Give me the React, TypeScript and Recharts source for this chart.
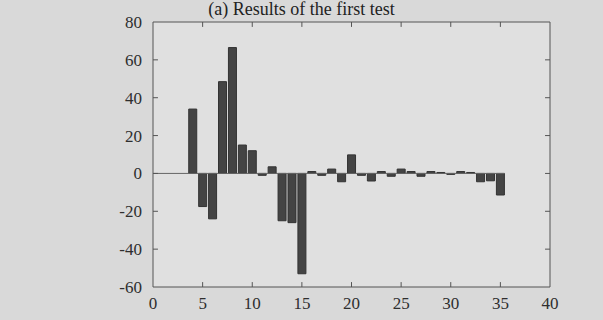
import React from 'react';
import { BarChart, Bar, XAxis, YAxis, CartesianGrid, ReferenceLine } from 'recharts';

// sample index 1..35 and the measured result for each
const samples = [1, 2, 3, 4, 5, 6, 7, 8, 9, 10, 11, 12, 13, 14, 15, 16, 17, 18, 19, 20, 21, 22, 23, 24, 25, 26, 27, 28, 29, 30, 31, 32, 33, 34, 35];
const results = [0, 0, 0, 34, -17.5, -24, 48.5, 66.5, 15, 12, -1, 3.5, -25, -26, -53, 1, -1, 2.3, -4.4, 9.8, -1, -4, 1, -1.5, 2.3, 1, -1.5, 1, 0.5, -0.5, 1, 0.5, -4.4, -3.9, -11.4];
const xTicks = [0, 5, 10, 15, 20, 25, 30, 35, 40];
const yTicks = [-60, -40, -20, 0, 20, 40, 60, 80];

const X_MIN = 0;
const X_MAX = 40;
const Y_MIN = -60;
const Y_MAX = 80;

const data = samples.map((s, i) => ({ x: s, value: results[i] }));

const tickFont = { fontFamily: '"Liberation Serif", serif', fontSize: 17, fill: '#2e2e2e' };
const frame = '#555';

// inward tick lengths, in data units (about 5px)
const xTickLen = 0.5;
const yTickLen = 2.6;

const App: React.FC = () => {
  return (
    <div style={{ position: 'absolute', left: 0, top: 0, width: 603, height: 320, background: '#d9d9d9', overflow: 'hidden' }}>
      <div
        style={{
          position: 'absolute',
          left: 0,
          width: 603,
          top: 0,
          textAlign: 'center',
          fontFamily: '"Liberation Serif", serif',
          fontSize: 18,
          color: '#222',
          lineHeight: '18px',
        }}
      >
        (a) Results of the first test
      </div>
      <BarChart width={603} height={320} data={data} margin={{ top: 22, right: 53, bottom: 3, left: 103 }}>
        <CartesianGrid horizontal={false} vertical={false} fill="#e0e0e0" />
        <XAxis
          dataKey="x"
          type="number"
          domain={[X_MIN, X_MAX]}
          ticks={xTicks}
          height={30}
          tickLine={false}
          tickMargin={4}
          stroke={frame}
          tick={tickFont}
          interval={0}
        />
        <YAxis
          type="number"
          domain={[Y_MIN, Y_MAX]}
          ticks={yTicks}
          width={50}
          tickLine={false}
          tickMargin={5}
          stroke={frame}
          tick={tickFont}
          interval={0}
        />
        {/* top and right edges of the box */}
        <ReferenceLine y={Y_MAX} stroke={frame} strokeWidth={1} />
        <ReferenceLine x={X_MAX} stroke={frame} strokeWidth={1} />
        {/* zero baseline */}
        <ReferenceLine
          segment={[{ x: X_MIN, y: 0 }, { x: samples[samples.length - 1] + 0.4, y: 0 }]}
          stroke="#666"
          strokeWidth={1}
        />
        {/* inward tick marks on all four sides */}
        {xTicks.slice(1, -1).map((t) => (
          <ReferenceLine key={`xb${t}`} segment={[{ x: t, y: Y_MIN }, { x: t, y: Y_MIN + yTickLen }]} stroke={frame} />
        ))}
        {xTicks.slice(1, -1).map((t) => (
          <ReferenceLine key={`xt${t}`} segment={[{ x: t, y: Y_MAX }, { x: t, y: Y_MAX - yTickLen }]} stroke={frame} />
        ))}
        {yTicks.slice(1, -1).map((t) => (
          <ReferenceLine key={`yl${t}`} segment={[{ x: X_MIN, y: t }, { x: X_MIN + xTickLen, y: t }]} stroke={frame} />
        ))}
        {yTicks.slice(1, -1).map((t) => (
          <ReferenceLine key={`yr${t}`} segment={[{ x: X_MAX, y: t }, { x: X_MAX - xTickLen, y: t }]} stroke={frame} />
        ))}
        <Bar
          dataKey="value"
          barSize={8}
          fill="#444"
          stroke="#333"
          strokeWidth={1}
          isAnimationActive={false}
        />
      </BarChart>
    </div>
  );
};

export default App;
